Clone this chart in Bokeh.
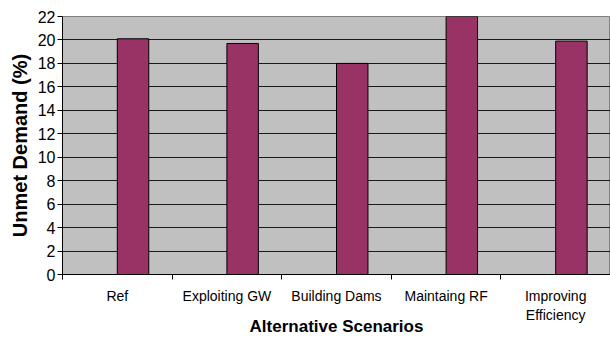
from bokeh.plotting import figure
from bokeh.models import FixedTicker, Range1d, ColumnDataSource
from bokeh.embed import file_html
from bokeh.resources import INLINE

# Unmet demand (%) per alternative scenario
scenarios = ["Ref", "Exploiting GW", "Building Dams", "Maintaing RF", "Improving\nEfficiency"]
unmet_demand = [20.1, 19.7, 18.0, 22.0, 19.9]
y_ticks = [0, 2, 4, 6, 8, 10, 12, 14, 16, 18, 20, 22]

FONT = "Liberation Sans"
BAR_WIDTH = 0.287  # fraction of a category slot

n = len(scenarios)
centers = [i + 0.5 for i in range(n)]
# bars sit just right of each slot centre, as in a two-series clustered layout
bar_x = [c + BAR_WIDTH / 2 for c in centers]
src = ColumnDataSource(dict(x=bar_x, top=unmet_demand))

p = figure(
    width=610, height=338,
    output_backend="svg", toolbar_location=None,
    x_range=Range1d(0, n), y_range=Range1d(0, 22),
    min_border_left=62, min_border_right=0,
    min_border_top=16, min_border_bottom=64,
)
p.border_fill_color = "white"
p.outline_line_color = "#808080"

# plot area fill and grid
p.background_fill_color = "#C0C0C0"
p.xgrid.visible = False
p.ygrid.ticker = FixedTicker(ticks=y_ticks[1:-1])
p.ygrid.grid_line_color = "#1a1a1a"
p.ygrid.grid_line_width = 1

p.vbar(x="x", top="top", bottom=0, width=BAR_WIDTH, source=src,
       fill_color="#993366", line_color="black", line_width=1)

# x axis: labels at slot centres, tick marks on slot boundaries
xa = p.xaxis[0]
xa.ticker = FixedTicker(ticks=centers, minor_ticks=list(range(n + 1)))
xa.major_label_overrides = {c: s for c, s in zip(centers, scenarios)}
xa.major_tick_out = 0
xa.major_tick_in = 0
xa.minor_tick_out = 5
xa.minor_tick_in = 0
xa.minor_tick_line_color = "black"
xa.axis_line_color = "black"
xa.major_label_standoff = 8
xa.major_label_text_font = FONT
xa.major_label_text_font_size = "14px"
xa.major_label_text_color = "black"
xa.axis_label = "Alternative Scenarios"
xa.axis_label_text_font = FONT
xa.axis_label_text_font_size = "17px"
xa.axis_label_text_font_style = "bold"
xa.axis_label_text_color = "black"
xa.axis_label_standoff = -9

# y axis
ya = p.yaxis[0]
ya.ticker = FixedTicker(ticks=y_ticks)
ya.major_tick_out = 5
ya.major_tick_in = 0
ya.minor_tick_line_color = None
ya.axis_line_color = "black"
ya.major_tick_line_color = "black"
ya.major_label_standoff = 2
ya.major_label_text_font = FONT
ya.major_label_text_font_size = "16px"
ya.major_label_text_color = "black"
ya.axis_label = "Unmet Demand (%)"
ya.axis_label_text_font = FONT
ya.axis_label_text_font_size = "20px"
ya.axis_label_text_font_style = "bold"
ya.axis_label_text_color = "black"
ya.axis_label_standoff = 4

open("out.html", "w").write(file_html(p, INLINE))
